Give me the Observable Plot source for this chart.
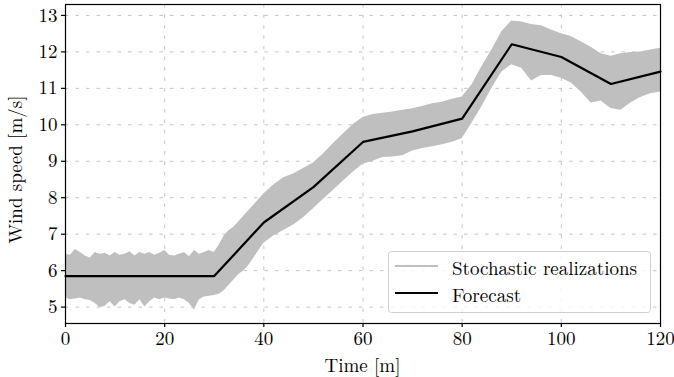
<!DOCTYPE html>
<html>
<head>
<meta charset="utf-8">
<script src="https://cdn.jsdelivr.net/npm/d3@7"></script>
<script src="https://cdn.jsdelivr.net/npm/@observablehq/plot@0.6"></script>
<style>
  html, body { margin: 0; padding: 0; background: white; }
  #chart { font-family: "Latin Modern Roman", "Liberation Serif", serif; }
  #chart svg text { font-family: "Latin Modern Roman", "Liberation Serif", serif !important; }
</style>
</head>
<body>
<div id="chart"></div>
<script>
// Forecast (black line)
const forecastTime = [0, 10, 20, 30, 40, 50, 60, 70, 80, 90, 100, 110, 120];
const forecastSpeed = [5.85, 5.85, 5.85, 5.85, 7.32, 8.29, 9.53, 9.82, 10.17, 12.21, 11.86, 11.12, 11.46];

// Envelope of the stochastic realizations (grey band)
const bandTime = [0,1,2,3,4,5,6,7,8,9,10,11,12,13,14,15,16,17,18,19,20,21,22,23,24,25,26,27,28,29,30,
  31,32,33,34,35,36,37,38,39,40,42,44,46,48,50,52,54,56,58,60,62,64,66,68,70,72,74,76,78,80,
  82,84,86,88,90,92,94,96,98,100,102,104,106,108,110,112,114,116,118,120];
const bandUpper = [6.45,6.42,6.58,6.5,6.4,6.35,6.5,6.45,6.48,6.4,6.5,6.42,6.45,6.52,6.4,6.5,6.45,6.5,6.42,6.48,6.55,6.42,6.4,6.45,6.5,6.38,6.55,6.45,6.5,6.55,6.5,
  6.7,6.95,7.1,7.2,7.35,7.5,7.65,7.8,7.95,8.1,8.35,8.55,8.65,8.8,8.95,9.2,9.48,9.75,10.0,10.2,10.28,10.32,10.35,10.4,10.44,10.5,10.58,10.62,10.7,10.76,
  11.1,11.6,12.05,12.55,12.85,12.82,12.75,12.72,12.6,12.5,12.42,12.28,12.13,11.95,11.88,11.95,11.98,12.0,12.05,12.1];
const bandLower = [5.25,5.2,5.22,5.25,5.2,5.18,5.1,4.98,5.02,5.15,5.0,5.15,5.2,5.1,5.05,5.2,5.0,5.15,5.25,5.2,5.25,5.22,5.2,5.25,5.2,5.1,4.92,5.2,5.28,5.3,5.32,
  5.35,5.45,5.6,5.75,5.9,6.0,6.15,6.35,6.55,6.75,6.95,7.1,7.25,7.45,7.7,7.95,8.2,8.45,8.7,8.92,9.0,9.1,9.12,9.15,9.28,9.35,9.4,9.45,9.52,9.62,
  10.05,10.5,11.0,11.45,11.65,11.55,11.2,11.35,11.35,11.28,11.15,10.9,10.6,10.65,10.45,10.4,10.6,10.75,10.85,10.9];

const xTicks = [0, 20, 40, 60, 80, 100, 120];
const yTicks = [5, 6, 7, 8, 9, 10, 11, 12, 13];
const legendLabels = ["Stochastic realizations", "Forecast"];

const forecast = forecastTime.map((t, i) => ({t, v: forecastSpeed[i]}));
const band = bandTime.map((t, i) => ({t, lo: bandLower[i], hi: bandUpper[i]}));

const W = 674, H = 377;
const mL = 65, mR = 14, mT = 4, mB = 54;
const FONT = "'Latin Modern Roman', 'Liberation Serif', serif";
const FS = 19;
const GREY = "#bfbfbf";
const GRID = "#bdbdbd";

const svg = Plot.plot({
  width: W,
  height: H,
  marginLeft: mL,
  marginRight: mR,
  marginTop: mT,
  marginBottom: mB,
  style: {fontFamily: FONT, fontSize: FS + "px", background: "white", color: "black", overflow: "visible"},
  x: {domain: [0, 120], label: null},
  y: {domain: [4.55, 13.3], label: null},
  marks: [
    Plot.gridX(xTicks, {stroke: GRID, strokeOpacity: 1, strokeWidth: 0.9, strokeDasharray: "3.5,7"}),
    Plot.gridY(yTicks, {stroke: GRID, strokeOpacity: 1, strokeWidth: 0.9, strokeDasharray: "3.5,7"}),
    Plot.areaY(band, {x: "t", y1: "lo", y2: "hi", fill: GREY, curve: "linear"}),
    Plot.line(forecast, {x: "t", y: "v", stroke: "black", strokeWidth: 2.2}),
    Plot.frame({stroke: "black", strokeWidth: 1.2}),
    Plot.axisX(xTicks, {tickSize: 4, tickPadding: 4, fontSize: FS, label: null, strokeWidth: 1.2}),
    Plot.axisY(yTicks, {tickSize: 4, tickPadding: 4, fontSize: FS, label: null, strokeWidth: 1.2})
  ]
});

const s = d3.select(svg);
s.attr("font-family", FONT);
// Axis titles
s.append("text")
  .attr("x", (mL + (W - mR)) / 2)
  .attr("y", 371.5)
  .attr("text-anchor", "middle")
  .attr("font-size", FS)
  .attr("fill", "black")
  .text("Time [m]");
s.append("text")
  .attr("transform", `translate(22, ${(mT + (H - mB)) / 2 + 6}) rotate(-90)`)
  .attr("text-anchor", "middle")
  .attr("font-size", FS)
  .attr("fill", "black")
  .text("Wind speed [m/s]");

// Legend
const lg = s.append("g");
lg.append("rect")
  .attr("x", 388.5).attr("y", 251.5).attr("width", 262).attr("height", 61)
  .attr("rx", 3).attr("ry", 3)
  .attr("fill", "white").attr("fill-opacity", 0.8)
  .attr("stroke", "#d0d0d0").attr("stroke-width", 1);
const legendColors = [GREY, "black"];
const legendY = [266, 293];
legendLabels.forEach((lab, i) => {
  lg.append("line")
    .attr("x1", 395).attr("x2", 438)
    .attr("y1", legendY[i]).attr("y2", legendY[i])
    .attr("stroke", legendColors[i]).attr("stroke-width", 2.2);
  lg.append("text")
    .attr("x", 452)
    .attr("y", legendY[i] + 8.5)
    .attr("text-anchor", "start")
    .attr("font-size", FS)
    .attr("fill", "black")
    .text(lab);
});

s.selectAll("text").attr("font-family", FONT).style("font-family", FONT, "important");

document.getElementById("chart").appendChild(svg);
</script>
</body>
</html>
